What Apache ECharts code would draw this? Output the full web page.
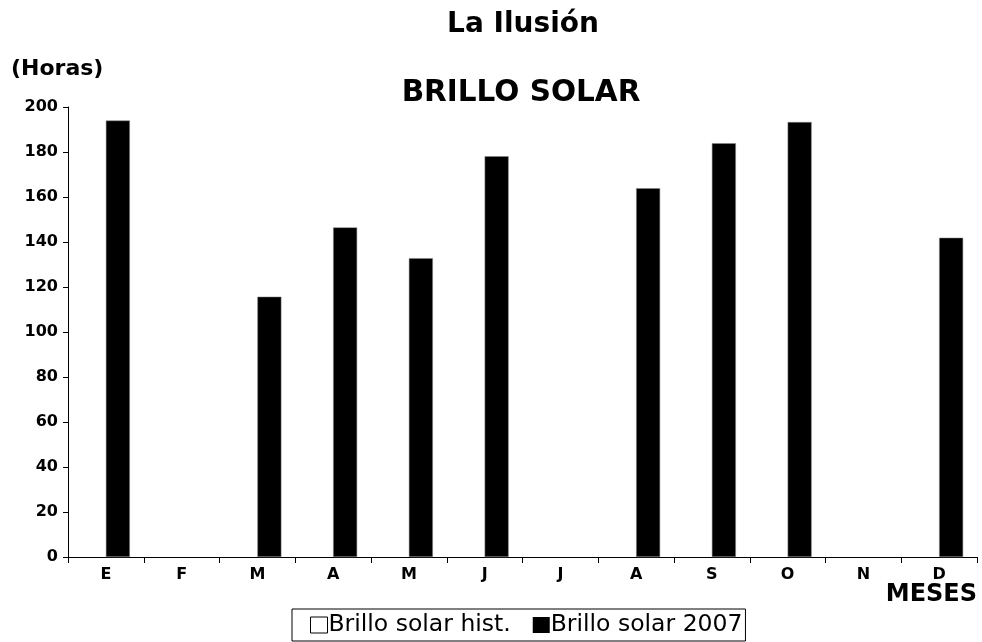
<!DOCTYPE html>
<html>
<head>
<meta charset="utf-8">
<script src="https://cdn.jsdelivr.net/npm/echarts@6/dist/echarts.min.js"></script>
<style>html,body{margin:0;padding:0;background:#fff}#c{width:982px;height:642px}</style>
</head>
<body>
<div id="c"></div>
<script>
var months = ['E','F','M','A','M','J','J','A','S','O','N','D'];
var histValues = [null,null,null,null,null,null,null,null,null,null,null,null];
var values2007 = [194,null,115.7,146.5,132.8,178.1,null,163.9,183.9,193.3,null,141.9];
var seriesNames = ['Brillo solar hist.','Brillo solar 2007'];
var chartTitle = 'La Ilusión';
var chartSubtitle = 'BRILLO SOLAR';
var yAxisTitle = '(Horas)';
var xAxisTitle = 'MESES';

var F = '"DejaVu Sans", "Liberation Sans", Arial, sans-serif';
function boldFont(size){ return 'bold ' + size + 'px ' + F; }
var chart = echarts.init(document.getElementById('c'), null, {renderer:'canvas'});
chart.setOption({
  animation:false,
  backgroundColor:'#fff',
  graphic:[
    {type:'text', x:523, y:25, style:{text:chartTitle, font:boldFont(28), fill:'#000', align:'center', verticalAlign:'middle'}},
    {type:'text', x:521, y:93, style:{text:chartSubtitle, font:boldFont(29.5), fill:'#000', align:'center', verticalAlign:'middle'}},
    {type:'text', x:11, y:69, style:{text:yAxisTitle, font:boldFont(22), fill:'#000', align:'left', verticalAlign:'middle'}},
    {type:'text', x:977, y:595, style:{text:xAxisTitle, font:boldFont(24), fill:'#000', align:'right', verticalAlign:'middle'}}
  ],
  legend:{
    data:[
      {name:seriesNames[0], itemStyle:{color:'#fff',borderColor:'#000',borderWidth:1}},
      {name:seriesNames[1], itemStyle:{color:'#000',borderColor:'#000',borderWidth:0}}
    ],
    left:292, top:609,
    icon:'rect', itemWidth:17, itemHeight:16, itemGap:22,
    borderColor:'#000', borderWidth:1, padding:[3,3,3,18],
    textStyle:{fontFamily:F,fontSize:23.5,color:'#000',padding:[0,0,0,-4],lineHeight:26}
  },
  grid:{left:68, right:5, top:107, bottom:85, containLabel:false},
  xAxis:{
    type:'category', data:months,
    axisLine:{lineStyle:{color:'#000',width:1}},
    axisTick:{show:true, length:6, lineStyle:{color:'#000'}},
    axisLabel:{fontFamily:F,fontWeight:'bold',fontSize:16,color:'#000',margin:10}
  },
  yAxis:{
    type:'value', min:0, max:200, interval:20,
    axisLine:{show:true,lineStyle:{color:'#000',width:1}},
    axisTick:{show:true, length:5, lineStyle:{color:'#000'}},
    splitLine:{show:false},
    axisLabel:{fontFamily:F,fontWeight:'bold',fontSize:16,color:'#000',margin:10}
  },
  series:[
    {name:seriesNames[0], type:'bar', data:histValues, barWidth:24, barGap:'0%', itemStyle:{color:'#fff',borderColor:'#000',borderWidth:1}},
    {name:seriesNames[1], type:'bar', data:values2007, barWidth:24, barGap:'0%', itemStyle:{color:'#000',borderColor:'#888',borderWidth:0.5}}
  ]
});
</script>
</body>
</html>
